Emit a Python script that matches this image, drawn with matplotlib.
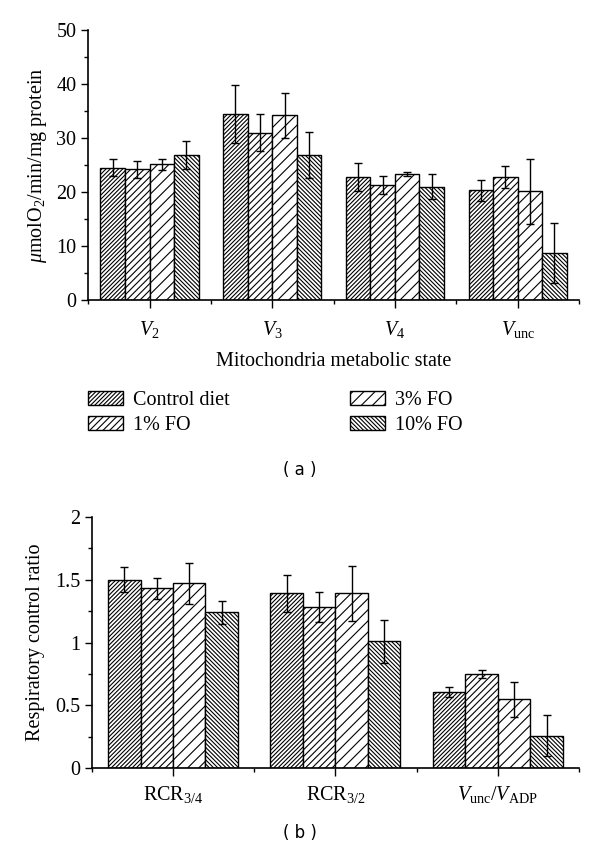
import numpy as np
import matplotlib
matplotlib.use('Agg')
import matplotlib.pyplot as plt
from matplotlib.ticker import MultipleLocator, FixedLocator

plt.rcParams['font.family'] = ['Liberation Serif', 'DejaVu Serif']
plt.rcParams['mathtext.fontset'] = 'custom'
plt.rcParams['mathtext.rm'] = 'Liberation Serif'
plt.rcParams['mathtext.it'] = 'Liberation Serif:italic'
plt.rcParams['hatch.linewidth'] = 0.8

series = ['Control diet', '1% FO', '3% FO', '10% FO']
hatches = ['////////', '/////', '///', '\\\\\\\\\\\\\\\\']

# panel (a): respiration rates
states = [r'$V_2$', r'$V_3$', r'$V_4$', r'$V_{\mathrm{unc}}$']
rate_control = [24.5, 34.4, 22.8, 20.3]
rate_fo1 = [24.2, 31.0, 21.3, 22.8]
rate_fo3 = [25.1, 34.2, 23.3, 20.1]
rate_fo10 = [26.8, 26.8, 21.0, 8.7]
err_control = [1.6, 5.4, 2.6, 2.0]
err_fo1 = [1.6, 3.5, 1.6, 2.0]
err_fo3 = [1.0, 4.2, 0.35, 6.0]
err_fo10 = [2.6, 4.3, 2.3, 5.5]

# panel (b): respiratory control ratios
ratios = [r'RCR$_{3/4}$', r'RCR$_{3/2}$', r'$V_{\mathrm{unc}}/V_{\mathrm{ADP}}$']
rcr_control = [1.50, 1.39, 0.61]
rcr_fo1 = [1.43, 1.28, 0.75]
rcr_fo3 = [1.47, 1.39, 0.55]
rcr_fo10 = [1.24, 1.01, 0.26]
rerr_control = [0.10, 0.15, 0.04]
rerr_fo1 = [0.08, 0.12, 0.03]
rerr_fo3 = [0.16, 0.22, 0.14]
rerr_fo10 = [0.09, 0.17, 0.16]

fs = 14.5

fig = plt.figure(figsize=(6, 8.57), dpi=100)
ax1 = fig.add_axes([0.147, 0.650, 0.818, 0.315])
ax2 = fig.add_axes([0.153, 0.1035, 0.812, 0.2935])

width = 0.2
offsets = [-0.3, -0.1, 0.1, 0.3]


def draw(ax, labels, vals, errs, pad):
    x = np.arange(len(labels))
    handles = []
    for i in range(4):
        b = ax.bar(x + offsets[i], vals[i], width, yerr=errs[i],
                   color='white', edgecolor='black', linewidth=1.0,
                   hatch=hatches[i], label=series[i],
                   error_kw=dict(ecolor='black', elinewidth=1.0, capsize=2.6, capthick=1.0))
        handles.append(b)
    ax.set_xlim(-0.5, len(labels) - 0.5)
    ax.set_xticks(x)
    ax.set_xticklabels(labels, fontsize=fs)
    ax.xaxis.set_minor_locator(FixedLocator(np.arange(len(labels) + 1) - 0.5))
    ax.tick_params(axis='x', which='major', length=6, width=1.0, pad=pad)
    ax.tick_params(axis='x', which='minor', length=3, width=1.0)
    ax.tick_params(axis='y', which='major', length=5, width=1.0, labelsize=fs)
    ax.tick_params(axis='y', which='minor', length=3, width=1.0)
    for s in ['top', 'right']:
        ax.spines[s].set_visible(False)
    for s in ['left', 'bottom']:
        ax.spines[s].set_linewidth(1.2)
    return handles


h = draw(ax1, states, [rate_control, rate_fo1, rate_fo3, rate_fo10],
         [err_control, err_fo1, err_fo3, err_fo10], 8)
ax1.set_ylim(0, 50)
ax1.yaxis.set_major_locator(MultipleLocator(10))
ax1.yaxis.set_minor_locator(MultipleLocator(5))
ax1.set_ylabel(r'$\mu$molO$_2$/min/mg protein', fontsize=fs, labelpad=5)
ax1.set_xlabel('Mitochondria metabolic state', fontsize=fs, labelpad=8)

draw(ax2, ratios, [rcr_control, rcr_fo1, rcr_fo3, rcr_fo10],
     [rerr_control, rerr_fo1, rerr_fo3, rerr_fo10], 5)
ax2.set_ylim(0, 2)
ax2.yaxis.set_major_locator(MultipleLocator(0.5))
ax2.yaxis.set_minor_locator(MultipleLocator(0.25))
ax2.yaxis.set_major_formatter(plt.FuncFormatter(lambda v, p: f'{v:g}'))
ax2.set_ylabel('Respiratory control ratio', fontsize=fs, labelpad=7)

fig.legend(handles=h, labels=series, loc='upper left', bbox_to_anchor=(0.13, 1 - 381 / 857),
           ncol=2, frameon=False, fontsize=fs, handlelength=1.75, handleheight=0.65,
           handletextpad=0.5, columnspacing=5.95, labelspacing=0.3, borderpad=0)

fig.text(0.5, 1 - 470 / 857, '( a )', ha='center', va='center', fontsize=12, family='DejaVu Sans')
fig.text(0.5, 1 - 833 / 857, '( b )', ha='center', va='center', fontsize=12, family='DejaVu Sans')

fig.savefig('out.png', dpi=100)
